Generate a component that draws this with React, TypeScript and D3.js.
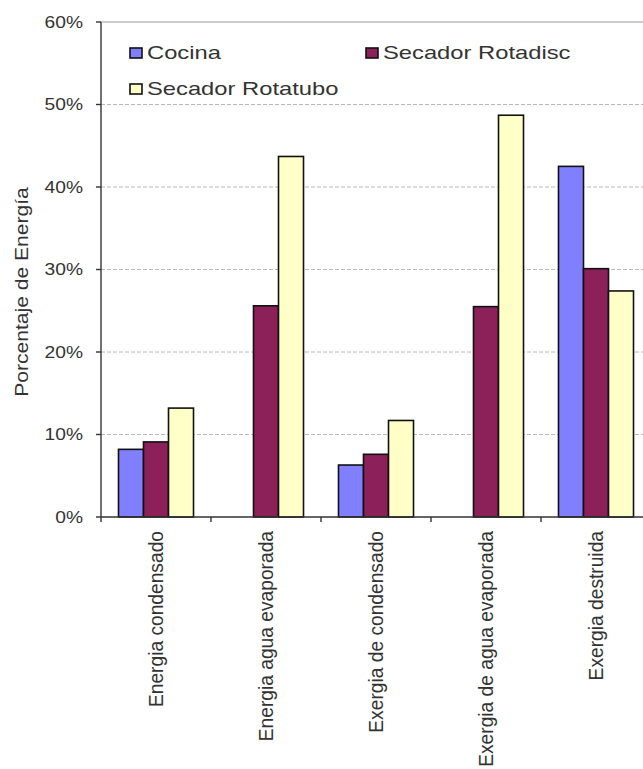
import React from "react";
import * as d3 from "d3";

// Categories and series
const categories = [
  "Energia condensado",
  "Energia agua evaporada",
  "Exergia de condensado",
  "Exergia de agua evaporada",
  "Exergia destruida",
];
const seriesNames = ["Cocina", "Secador Rotadisc", "Secador Rotatubo"];
const cocina = [8.2, 0, 6.3, 0, 42.5];
const rotadisc = [9.1, 25.6, 7.6, 25.5, 30.1];
const rotatubo = [13.2, 43.7, 11.7, 48.7, 27.4];
const yTicks = [0, 10, 20, 30, 40, 50, 60];
const seriesColors = ["#8080ff", "#8c2058", "#ffffc8"];

const W = 643;
const H = 769;
const left = 101;
const right = 651;
const top = 22;
const bottom = 517;
const textColor = "#333";
const font = "'Liberation Sans', Arial, sans-serif";

export default function App() {
  const seriesValues = [cocina, rotadisc, rotatubo];
  const y = d3.scaleLinear().domain([0, 60]).range([bottom, top]);
  const x0 = d3
    .scaleBand<string>()
    .domain(categories)
    .range([left, right])
    .paddingInner(0.318)
    .paddingOuter(0.159);
  const x1 = d3
    .scaleBand<string>()
    .domain(seriesNames)
    .range([0, x0.bandwidth()]);
  const step = x0.step();
  const boundaries = d3.range(categories.length + 1).map((i) => left + i * step);

  const legend = [
    { name: seriesNames[0], color: seriesColors[0], sx: 130, sy: 48 },
    { name: seriesNames[1], color: seriesColors[1], sx: 366, sy: 48 },
    { name: seriesNames[2], color: seriesColors[2], sx: 130, sy: 84 },
  ];

  return (
    <svg
      width={W}
      height={H}
      style={{ position: "absolute", left: 0, top: 0, background: "#fff" }}
      fontFamily={font}
    >
      {/* horizontal gridlines */}
      {yTicks
        .filter((t) => t > 0 && t < 60)
        .map((t) => (
          <line
            key={"g" + t}
            x1={left}
            x2={W}
            y1={y(t)}
            y2={y(t)}
            stroke="#b8b8b8"
            strokeWidth={1}
            strokeDasharray="4,2"
          />
        ))}
      {/* plot area top border */}
      <line x1={left} x2={W} y1={y(60)} y2={y(60)} stroke="#9a9a9a" strokeWidth={1.2} />

      {/* bars */}
      {categories.map((c, ci) => (
        <g key={c} transform={`translate(${x0(c)},0)`}>
          {seriesNames.map((s, si) => {
            const v = seriesValues[si][ci];
            if (v <= 0) return null;
            return (
              <rect
                key={s}
                x={x1(s)}
                y={y(v)}
                width={x1.bandwidth()}
                height={y(0) - y(v)}
                fill={seriesColors[si]}
                stroke="#111"
                strokeWidth={1.6}
              />
            );
          })}
        </g>
      ))}

      {/* y axis */}
      <line x1={left} x2={left} y1={top} y2={bottom} stroke="#333" strokeWidth={1.4} />
      {yTicks.map((t) => (
        <g key={"yt" + t}>
          <line x1={left - 5} x2={left} y1={y(t)} y2={y(t)} stroke="#333" strokeWidth={1.4} />
          <text
            transform={`translate(${left - 18},${y(t)}) scale(1.2,1)`}
            textAnchor="end"
            dy="0.36em"
            fontSize={16}
            fill={textColor}
          >
            {t}%
          </text>
        </g>
      ))}

      {/* x axis */}
      <line x1={left} x2={W} y1={bottom} y2={bottom} stroke="#333" strokeWidth={1.4} />
      {boundaries.map((bx, i) => (
        <line key={"xt" + i} x1={bx} x2={bx} y1={bottom} y2={bottom + 5} stroke="#333" strokeWidth={1.4} />
      ))}
      {categories.map((c) => (
        <text
          key={"xl" + c}
          transform={`translate(${(x0(c) as number) + x0.bandwidth() / 2 + 7},${bottom + 14}) rotate(-90) scale(1.13,1.2)`}
          textAnchor="end"
          fontSize={17}
          fill={textColor}
        >
          {c}
        </text>
      ))}

      {/* y axis title */}
      <text
        transform={`translate(28,292) rotate(-90) scale(1.24,1.1)`}
        textAnchor="middle"
        fontSize={17}
        fill={textColor}
      >
        Porcentaje de Energía
      </text>

      {/* legend */}
      {legend.map((l) => (
        <g key={"lg" + l.name}>
          <rect x={l.sx} y={l.sy} width={12} height={10} fill={l.color} stroke="#111" strokeWidth={1.6} />
          <text
            transform={`translate(${l.sx + 17},${l.sy + 11}) scale(1.25,1)`}
            fontSize={19}
            fill={textColor}
          >
            {l.name}
          </text>
        </g>
      ))}
    </svg>
  );
}
